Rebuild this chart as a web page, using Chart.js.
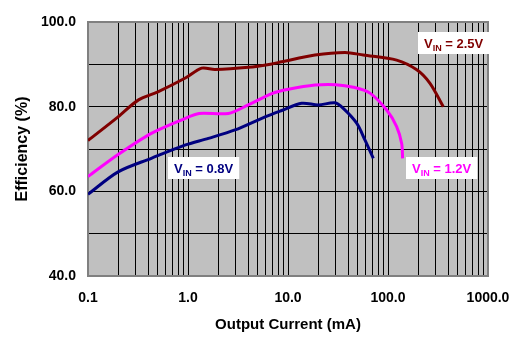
<!DOCTYPE html>
<html>
<head>
<meta charset="utf-8">
<script src="https://cdn.jsdelivr.net/npm/chart.js@4/dist/chart.umd.min.js"></script>
<style>
  body { margin: 0; background: #fff; }
  #wrap { width: 524px; height: 344px; }
</style>
</head>
<body>
<div id="wrap"><canvas id="myChart" width="524" height="344"></canvas></div>
<script>
// efficiency vs output current, one curve per input voltage
const current25 = [0.1, 0.2, 0.32, 0.5, 0.93, 1.37, 1.86, 4.0, 6.9, 8.65, 18.6, 37.2, 56.6, 122, 194, 263, 357]
const eff25 = [72.0, 77.6, 81.6, 83.5, 86.7, 89.1, 88.8, 89.3, 90.1, 90.6, 92.2, 92.8, 92.2, 91.0, 88.7, 85.5, 80.0]

const current12 = [0.1, 0.2, 0.43, 0.93, 1.29, 2.53, 4.0, 6.9, 10.1, 18.6, 30, 45, 66, 97, 122, 137, 140]
const eff12 = [63.5, 68.7, 73.7, 77.2, 78.4, 78.4, 80.4, 83.1, 84.1, 85.1, 85.2, 84.6, 83.2, 79.2, 75.3, 71.3, 67.8]

const current08 = [0.1, 0.2, 0.43, 0.93, 1.6, 2.95, 5.9, 8.65, 13.7, 20.1, 29.5, 35.7, 48.6, 58.9, 71.3]
const eff08 = [59.3, 64.6, 67.8, 70.9, 72.5, 74.5, 77.6, 79.1, 80.8, 80.4, 80.9, 79.6, 76.1, 72.1, 67.8]

const xTickLabels = [0.1, 1, 10, 100, 1000]
const yTickLabels = [40, 60, 80, 100]

// label text + where its box sits (data units, top-left corner)
const vinLabels = ['2.5V', '1.2V', '0.8V']
const vinLabelX = [200, 151, 0.63]
const vinLabelY = [97.7, 68.1, 68.1]
const vinColors = ['#800000', '#ff00ff', '#000080']

const toPoints = (xs, ys) => xs.map((x, i) => ({x: x, y: ys[i]}))

const FONT = '"Liberation Sans", Arial, sans-serif'

const plotBg = {
    id: 'plotBg',
    beforeDraw(chart) {
        const {ctx, chartArea: a} = chart
        ctx.save()
        ctx.fillStyle = '#c0c0c0'
        ctx.fillRect(a.left, a.top, a.width, a.height)
        ctx.restore()
    },
    beforeDatasetsDraw(chart) {
        const {ctx, chartArea: a} = chart
        ctx.save()
        ctx.strokeStyle = '#808080'
        ctx.lineWidth = 2
        ctx.strokeRect(a.left, a.top, a.width, a.height)
        ctx.restore()
    }
}

const vinBoxes = {
    id: 'vinBoxes',
    afterDatasetsDraw(chart) {
        const ctx = chart.ctx
        const xs = chart.scales.x, ys = chart.scales.y
        ctx.save()
        vinLabels.forEach((txt, i) => {
            const px = Math.round(xs.getPixelForValue(vinLabelX[i]))
            const py = Math.round(ys.getPixelForValue(vinLabelY[i]))
            ctx.font = 'bold 13px ' + FONT
            const wV = ctx.measureText('V').width
            const rest = ' = ' + txt
            const wRest = ctx.measureText(rest).width
            ctx.font = 'bold 9px ' + FONT
            const wSub = ctx.measureText('IN').width
            const w = wV + wSub + wRest + 12
            ctx.fillStyle = '#fff'
            ctx.fillRect(px, py, w, 22)
            ctx.fillStyle = vinColors[i]
            ctx.textBaseline = 'alphabetic'
            let tx = px + 6
            const base = py + 16
            ctx.font = 'bold 13px ' + FONT
            ctx.fillText('V', tx, base)
            tx += wV
            ctx.font = 'bold 9px ' + FONT
            ctx.fillText('IN', tx, base + 3)
            tx += wSub
            ctx.font = 'bold 13px ' + FONT
            ctx.fillText(rest, tx, base)
        })
        ctx.restore()
    }
}

const isDecade = v => Math.abs(Math.log10(v) - Math.round(Math.log10(v))) < 1e-9

const logTicks = []
for (let e = -1; e < 3; e++) {
    for (let s = 1; s < 10; s++) logTicks.push(+(s * Math.pow(10, e)).toPrecision(3))
}
logTicks.push(1000)

var ctx = document.getElementById('myChart').getContext('2d');
var myChart = new Chart(ctx, {
    type: 'line',
    data: {
        datasets: [
            {data: toPoints(current25, eff25), borderColor: vinColors[0]},
            {data: toPoints(current12, eff12), borderColor: vinColors[1]},
            {data: toPoints(current08, eff08), borderColor: vinColors[2]}
        ].map(d => Object.assign(d, {borderWidth: 3, pointRadius: 0, tension: 0.3, fill: false}))
    },
    options: {
        responsive: false,
        animation: false,
        layout: {padding: {top: 22, right: 36, left: 0, bottom: 0}},
        plugins: {legend: {display: false}, tooltip: {enabled: false}},
        scales: {
            x: {
                type: 'logarithmic',
                min: 0.1,
                max: 1000,
                afterBuildTicks: scale => { scale.ticks = logTicks.map(v => ({value: v})) },
                afterFit: scale => { scale.height = 68 },
                grid: {color: '#000', lineWidth: 1, drawTicks: false},
                border: {display: false},
                ticks: {
                    autoSkip: false,
                    maxRotation: 0,
                    padding: 14,
                    color: '#000',
                    font: {family: FONT, size: 14, weight: 'bold'},
                    callback: v => (xTickLabels.includes(v) || isDecade(v)) ? Number(v).toFixed(1) : ''
                },
                title: {
                    display: true,
                    text: 'Output Current (mA)',
                    color: '#000',
                    font: {family: FONT, size: 15, weight: 'bold'},
                    padding: {top: 0, bottom: 10}
                }
            },
            y: {
                min: 40,
                max: 100,
                afterFit: scale => { scale.width = 88 },
                grid: {color: '#000', lineWidth: 1, drawTicks: false},
                border: {display: false},
                ticks: {
                    stepSize: 10,
                    padding: 12,
                    color: '#000',
                    font: {family: FONT, size: 14, weight: 'bold'},
                    callback: v => yTickLabels.includes(v) ? v.toFixed(1) : ''
                },
                title: {
                    display: true,
                    text: 'Efficiency (%)',
                    color: '#000',
                    font: {family: FONT, size: 16, weight: 'bold'},
                    padding: {top: 13, bottom: 0}
                }
            }
        }
    },
    plugins: [plotBg, vinBoxes]
});
</script>
</body>
</html>
